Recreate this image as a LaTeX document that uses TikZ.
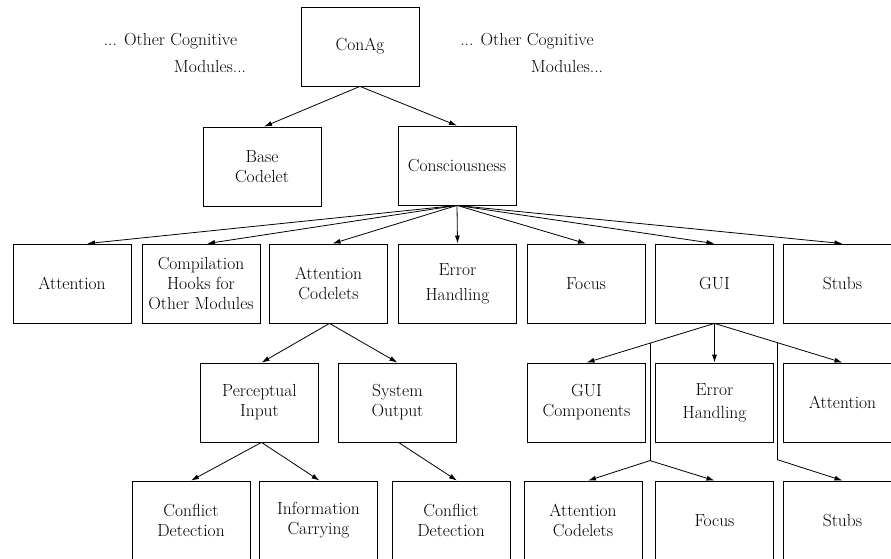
\documentclass[tikz,border=0pt]{standalone}
\usetikzlibrary{positioning,arrows.meta}

\begin{document}
\begin{tikzpicture}[x=1pt,y=-1pt,
    module/.style={draw, line width=0.8pt, minimum width=118pt, minimum height=79pt,
        inner sep=0pt, align=center, font=\fontsize{17.5}{20}\selectfont},
    note/.style={inner sep=0pt, font=\fontsize{17.5}{20}\selectfont},
    link/.style={line width=0.8pt, -{Latex[length=8pt,width=5pt]}},
    fork/.style={line width=0.8pt}]

\useasboundingbox (0,0) rectangle (891,559);
\clip (0,0) rectangle (891,559);

% Top: the agent and its neighbours
\node[module] (conag) at (360,46.5) {ConAg};
\node[note] (otherL1) at (170.5,41) {... Other Cognitive};
\node[note] (otherL2) at (210,66) {Modules...};
\node[note] (otherR1) at (527,41) {... Other Cognitive};
\node[note] (otherR2) at (567,66) {Modules...};

% Second level
\node[module] (base) at (262,166.5) {Base\\Codelet};
\node[module] (cons) at (457,165.5) {Consciousness};

% Third level: parts of consciousness
\node[module] (att)     at (72,283.5)    {Attention};
\node[module] (hooks)   at (201,283.5)   {Compilation\\Hooks for\\Other Modules};
\node[module] (attcod)  at (328.5,283.5) {Attention\\Codelets};
\node[module] (err)     at (457.5,283.5) {Error\\[5pt]Handling};
\node[module] (focus)   at (586,283.5)   {Focus};
\node[module] (gui)     at (714.5,283.5) {GUI};
\node[module] (stubs)   at (842.5,283.5) {Stubs};

% Fourth level
\node[module] (percept) at (259.5,402.5) {Perceptual\\Input};
\node[module] (sysout)  at (397.5,402.5) {System\\Output};
\node[module] (guicomp) at (586.5,402.5) {GUI\\Components};
\node[module] (guierr)  at (714.5,402.5) {Error\\[3pt]Handling};
\node[module] (guiatt)  at (842.5,402.5) {Attention};

% Fifth level
\node[module] (conflA)  at (191,520.5)   {Conflict\\Detection};
\node[module] (info)    at (318.5,520.5) {Information\\Carrying};
\node[module] (conflB)  at (451,520.5)   {Conflict\\Detection};
\node[module] (guiac)   at (583,520.5)   {Attention\\Codelets};
\node[module] (guifoc)  at (714.5,520.5) {Focus};
\node[module] (guistub) at (842.5,520.5) {Stubs};

% Connectors
\draw[link] (conag.south) -- ([xshift=2]base.north);
\draw[link] (conag.south) -- (cons.north);

\draw[link] (cons.south) -- ([xshift=15]att.north);
\draw[link] (cons.south) -- ([xshift=6]hooks.north);
\draw[link] (cons.south) -- ([xshift=4]attcod.north);
\draw[link] (cons.south) -- (err.north);
\draw[link] (cons.south) -- (focus.north);
\draw[link] (cons.south) -- (gui.north);
\draw[link] (cons.south) -- (stubs.north);

\draw[link] ([xshift=1]attcod.south) -- ([xshift=2]percept.north);
\draw[link] ([xshift=1]attcod.south) -- (sysout.north);
\draw[link] ([xshift=2]percept.south) -- (conflA.north);
\draw[link] ([xshift=2]percept.south) -- ([xshift=1]info.north);
\draw[link] ([xshift=1]sysout.south) -- ([xshift=6]conflB.north);

\draw[link] (gui.south) -- (guicomp.north);
\draw[link] (gui.south) -- (guierr.north);
\draw[link] (gui.south) -- (guiatt.north);

% Branches of the GUI that run past the fourth level
\path (gui.south) -- (guicomp.north) coordinate[pos=0.504] (forkL);
\path (gui.south) -- (guiatt.north) coordinate[pos=0.49] (forkR);
\coordinate (joinL) at ([yshift=20]forkL |- guiac.north);
\coordinate (joinR) at ([yshift=21]forkR |- guistub.north);
\draw[fork] (forkL) -- (joinL);
\draw[fork] (forkR) -- (joinR);
\draw[link] (joinL) -- ([xshift=5]guiac.north);
\draw[link] (joinL) -- (guifoc.north);
\draw[link] (joinR) -- (guistub.north);

\end{tikzpicture}
\end{document}
